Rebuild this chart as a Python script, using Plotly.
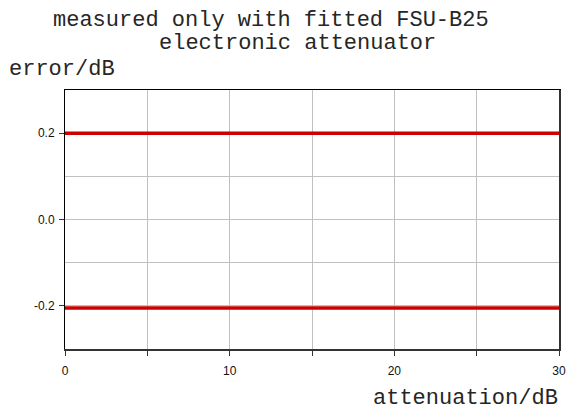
import plotly.graph_objects as go

# Attenuation range (dB) and the two error limit traces (dB)
attenuation = [0, 30]
upper_error = [0.2, 0.2]
lower_error = [-0.205, -0.205]

x_tick_vals = [0, 10, 20, 30]
x_tick_text = ["0", "10", "20", "30"]
y_tick_vals = [-0.2, 0.0, 0.2]
y_tick_text = ["-0.2", "0.0", "0.2"]

title_lines = ["measured only with fitted FSU-B25", "electronic attenuator"]

W, H = 578, 412
ML, MR, MT, MB = 65, 17, 90, 63

red = "#cc0000"
mono = "Liberation Mono, Courier New, monospace"
sans = "Liberation Sans, Arial, sans-serif"
text_col = "#262626"

fig = go.Figure()
for ys in (upper_error, lower_error):
    fig.add_trace(go.Scatter(x=attenuation, y=ys, mode="lines",
                             line=dict(color=red, width=3.5),
                             showlegend=False, hoverinfo="skip"))

# invisible trace that keeps the top/right frame axes alive
fig.add_trace(go.Scatter(x=attenuation, y=upper_error, xaxis="x2", yaxis="y2",
                         mode="lines", line=dict(width=0), opacity=0,
                         showlegend=False, hoverinfo="skip"))

axis_common = dict(
    showline=True, mirror=False,
    ticks="outside", ticklen=5, tickcolor="#333333", tickwidth=1,
    showgrid=True, gridcolor="#c0c0c0", gridwidth=1,
    zeroline=False,
    tickfont=dict(family=sans, size=12, color="#111111"),
)

fig.update_xaxes(
    range=[0, 30], tickvals=x_tick_vals, ticktext=x_tick_text,
    linecolor="#333333", linewidth=2, ticklabelstandoff=5,
    minor=dict(dtick=5, ticks="outside", ticklen=5, tickcolor="#333333",
               showgrid=True, gridcolor="#c0c0c0", gridwidth=1),
    **axis_common,
)
fig.update_yaxes(
    range=[-0.3, 0.3], tickvals=y_tick_vals, ticktext=y_tick_text,
    linecolor="#000000", linewidth=1, ticklabelstandoff=2,
    minor=dict(dtick=0.1, ticks="", showgrid=True,
               gridcolor="#c0c0c0", gridwidth=1),
    **axis_common,
)

# frame: thin top edge, heavier right edge
fig.update_layout(
    xaxis2=dict(overlaying="x", side="top", range=[0, 30], showline=True,
                linecolor="#000000", linewidth=1, showgrid=False,
                showticklabels=False, ticks="", zeroline=False),
    yaxis2=dict(overlaying="y", side="right", range=[-0.3, 0.3], showline=True,
                linecolor="#333333", linewidth=2, showgrid=False,
                showticklabels=False, ticks="", zeroline=False),
)

pw = W - ML - MR
ph = H - MT - MB

def px(xpix):
    return (xpix - ML) / pw

def py(ypix):
    return (H - MB - ypix) / ph

def label(text, x, y, xanchor):
    fig.add_annotation(text=text, xref="paper", yref="paper",
                       x=px(x), y=py(y), xanchor=xanchor, yanchor="middle",
                       showarrow=False,
                       font=dict(family=mono, size=22, color=text_col))

label(title_lines[0], 51, 20, "left")
label(title_lines[1], 157, 44, "left")
label("error/dB", 7, 70, "left")
label("attenuation/dB", 562, 398, "right")

fig.update_layout(
    width=W, height=H,
    margin=dict(l=ML, r=MR, t=MT, b=MB),
    paper_bgcolor="white", plot_bgcolor="white",
    showlegend=False,
)

fig.write_html("out.html")
